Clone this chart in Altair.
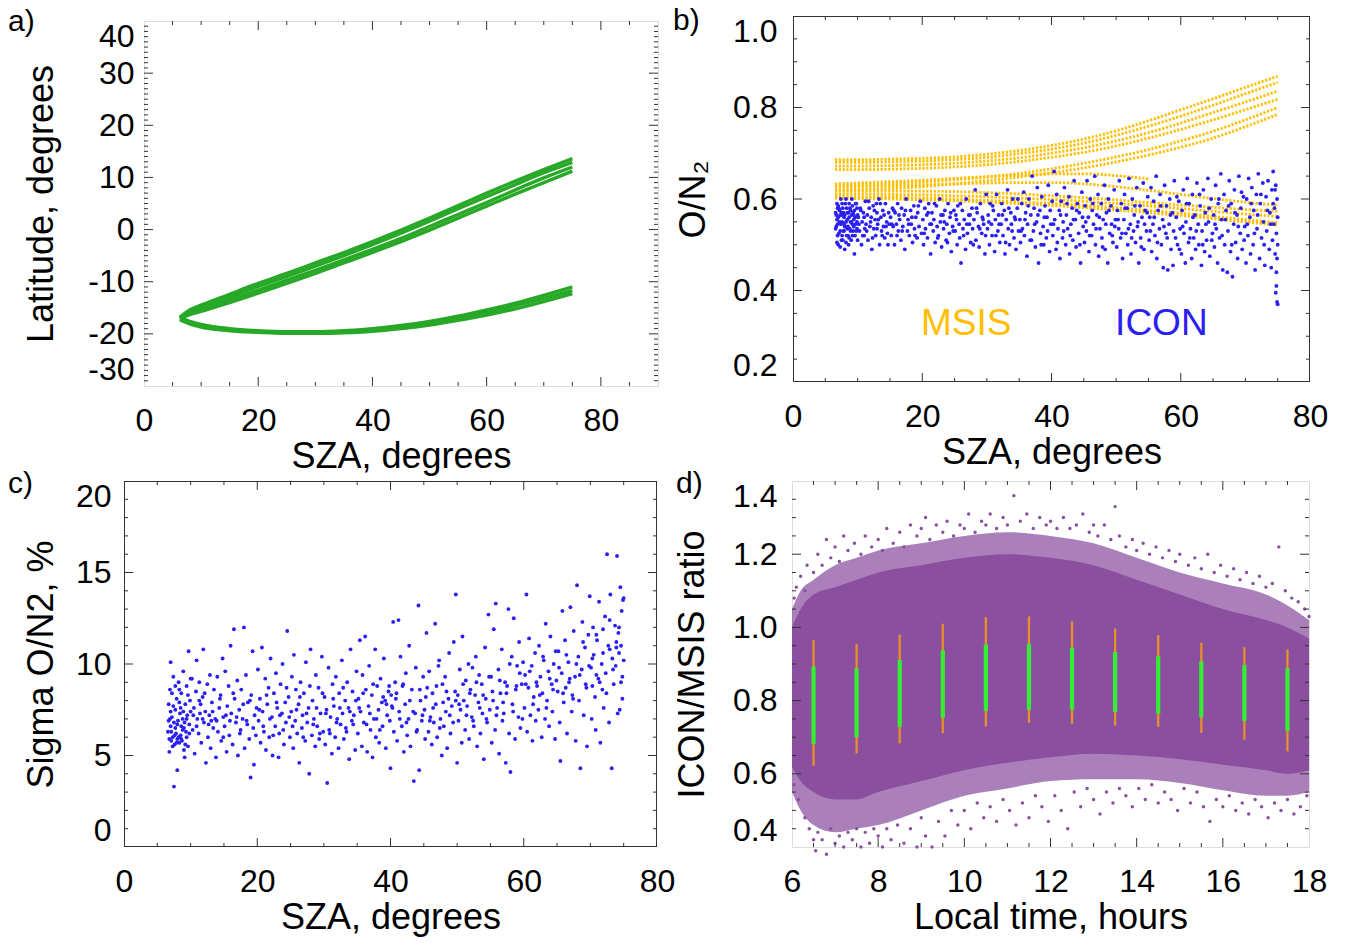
import altair as alt
import pandas as pd

FONT = "Liberation Sans"
LBL = 32
TTL = 36
TICK = "#333333"
BOX = "#333333"
GREEN = "#27a827"
GOLD = "#ffbf00"
BLUE = "#2a20f0"
PURPLE = "#8a4f9f"

# ---------------- Panel a: latitude vs SZA (orbit tracks) ----------------
a_sza = [6.3, 8, 10, 15, 20, 25, 30, 35, 40, 45, 50, 55, 60, 65, 70, 75]
a_up1 = [-16.8, -15.4, -14.5, -12.4, -10.3, -8.4, -6.4, -4.4, -2.3, -0.1, 2.2, 4.6, 7.0, 9.3, 11.5, 13.6]
a_up2 = [-16.9, -15.7, -14.9, -12.9, -10.9, -9.0, -7.0, -5.0, -2.9, -0.7, 1.6, 4.0, 6.3, 8.6, 10.9, 12.9]
a_up3 = [-17.0, -16.0, -15.3, -13.5, -11.6, -9.7, -7.8, -5.8, -3.8, -1.7, 0.6, 2.9, 5.2, 7.6, 9.9, 12.0]
a_up4 = [-17.1, -16.3, -15.7, -14.0, -12.2, -10.3, -8.4, -6.4, -4.4, -2.3, -0.1, 2.2, 4.5, 6.8, 9.0, 11.2]
a_lo1 = [-17.0, -17.6, -18.2, -19.0, -19.4, -19.6, -19.6, -19.4, -19.0, -18.4, -17.6, -16.6, -15.4, -14.1, -12.6, -11.0]
a_lo2 = [-17.2, -17.9, -18.5, -19.2, -19.6, -19.8, -19.8, -19.6, -19.3, -18.7, -17.9, -17.0, -15.9, -14.6, -13.2, -11.7]
a_lo3 = [-17.3, -18.1, -18.7, -19.4, -19.7, -19.9, -19.9, -19.8, -19.5, -19.0, -18.3, -17.4, -16.4, -15.2, -13.8, -12.3]

# ---------------- Panel b: MSIS tracks and ICON O/N2 ----------------
b_sza = [6.5, 10, 15, 20, 25, 30, 35, 40, 45, 50, 55, 60, 65, 70, 75]
msis_tracks = {
    "R1": [0.686, 0.686, 0.687, 0.689, 0.692, 0.698, 0.706, 0.717, 0.731, 0.749, 0.771, 0.795, 0.819, 0.844, 0.868],
    "R2": [0.680, 0.680, 0.681, 0.683, 0.686, 0.691, 0.699, 0.709, 0.722, 0.739, 0.759, 0.781, 0.805, 0.830, 0.855],
    "R3": [0.672, 0.672, 0.673, 0.675, 0.678, 0.683, 0.690, 0.700, 0.712, 0.727, 0.745, 0.766, 0.789, 0.812, 0.836],
    "R4": [0.664, 0.664, 0.665, 0.667, 0.670, 0.675, 0.682, 0.691, 0.702, 0.716, 0.733, 0.752, 0.773, 0.795, 0.818],
    "R5": [0.630, 0.631, 0.633, 0.637, 0.642, 0.648, 0.656, 0.666, 0.678, 0.692, 0.708, 0.727, 0.748, 0.773, 0.800],
    "R6": [0.620, 0.621, 0.623, 0.627, 0.633, 0.640, 0.648, 0.657, 0.668, 0.681, 0.696, 0.713, 0.733, 0.758, 0.785],
    "F2": [0.626, 0.627, 0.629, 0.631, 0.633, 0.635, 0.636, 0.636, 0.633, 0.627, 0.619, 0.610, 0.601, 0.593, 0.586],
    "F6": [0.617, 0.617, 0.617, 0.617, 0.616, 0.614, 0.611, 0.607, 0.603, 0.598, 0.592, 0.587, 0.582, 0.577, 0.573],
    "F3": [0.611, 0.611, 0.610, 0.609, 0.607, 0.605, 0.602, 0.599, 0.595, 0.590, 0.585, 0.579, 0.573, 0.567, 0.562],
    "F4": [0.606, 0.605, 0.604, 0.602, 0.600, 0.597, 0.594, 0.590, 0.586, 0.581, 0.575, 0.569, 0.562, 0.555, 0.548],
    "F5": [0.602, 0.601, 0.600, 0.598, 0.596, 0.593, 0.590, 0.586, 0.581, 0.576, 0.570, 0.564, 0.557, 0.550, 0.543],
}
f1_sza = [6.5, 10, 15, 20, 25, 30, 35, 40, 45, 50, 55]
f1_val = [0.633, 0.635, 0.638, 0.641, 0.645, 0.649, 0.652, 0.655, 0.655, 0.651, 0.644]

icon_sza = [6.6,6.7,6.8,6.9,7.0,7.0,7.1,7.2,7.3,7.4,7.5,7.5,7.6,7.7,7.8,7.9,8.0,8.0,8.1,8.2,8.3,8.4,8.5,8.6,8.7,8.8,8.9,9.0,9.1,9.2,9.3,9.4,9.5,9.6,9.7,9.8,9.9,10.0,6.8,7.3,7.9,8.4,8.9,9.4,9.9,7.6,8.7,9.2,6.9,8.2,
    10.1,10.3,10.4,10.6,10.7,10.9,11.0,11.2,11.3,11.5,11.6,11.8,11.9,12.1,12.2,12.4,12.5,12.7,12.8,13.0,13.1,13.3,13.4,13.6,13.7,13.9,14.0,14.2,14.3,14.5,14.6,14.8,14.9,11.1,12.9,
    15.1,15.2,15.4,15.5,15.7,15.8,16.0,16.2,16.3,16.5,16.7,16.8,17.0,17.2,17.3,17.5,17.7,17.8,18.0,18.2,18.3,18.5,18.7,18.8,19.0,19.2,19.3,19.5,19.7,19.9,
    20.1,20.2,20.4,20.5,20.7,20.8,21.0,21.2,21.3,21.5,21.7,21.8,22.0,22.2,22.3,22.5,22.7,22.8,23.0,23.2,23.3,23.5,23.7,23.8,24.0,24.2,24.3,24.5,24.7,24.9,
    25.1,25.2,25.4,25.5,25.7,25.8,26.0,26.2,26.3,26.5,26.7,26.8,27.0,27.2,27.3,27.5,27.7,27.8,28.0,28.2,28.3,28.5,28.7,28.8,29.0,29.2,29.3,29.5,29.7,29.9,
    30.1,30.2,30.4,30.5,30.7,30.8,31.0,31.2,31.3,31.5,31.7,31.8,32.0,32.2,32.3,32.5,32.7,32.8,33.0,33.2,33.3,33.5,33.7,33.8,34.0,34.2,34.3,34.5,34.7,34.9,
    35.1,35.2,35.4,35.5,35.7,35.8,36.0,36.2,36.3,36.5,36.7,36.8,37.0,37.2,37.3,37.5,37.7,37.8,38.0,38.2,38.3,38.5,38.7,38.8,39.0,39.2,39.3,39.5,39.7,39.9,
    40.1,40.2,40.4,40.5,40.7,40.8,41.0,41.2,41.3,41.5,41.7,41.8,42.0,42.2,42.3,42.5,42.7,42.8,43.0,43.2,43.3,43.5,43.7,43.8,44.0,44.2,44.3,44.5,44.7,44.9,
    45.1,45.2,45.4,45.5,45.7,45.8,46.0,46.2,46.3,46.5,46.7,46.8,47.0,47.2,47.3,47.5,47.7,47.8,48.0,48.2,48.3,48.5,48.7,48.8,49.0,49.2,49.3,49.5,49.7,49.9,
    50.1,50.2,50.4,50.5,50.7,50.8,51.0,51.2,51.3,51.5,51.7,51.8,52.0,52.2,52.3,52.5,52.7,52.8,53.0,53.2,53.3,53.5,53.7,53.8,54.0,54.2,54.3,54.5,54.7,54.9,
    55.1,55.2,55.4,55.5,55.7,55.8,56.0,56.2,56.3,56.5,56.7,56.8,57.0,57.2,57.3,57.5,57.7,57.8,58.0,58.2,58.3,58.5,58.7,58.8,59.0,59.2,59.3,59.5,59.7,59.9,
    60.1,60.2,60.4,60.5,60.7,60.8,61.0,61.2,61.3,61.5,61.7,61.8,62.0,62.2,62.3,62.5,62.7,62.8,63.0,63.2,63.3,63.5,63.7,63.8,64.0,64.2,64.3,64.5,64.7,64.9,
    65.1,65.2,65.4,65.5,65.7,65.8,66.0,66.2,66.3,66.5,66.7,66.8,67.0,67.2,67.3,67.5,67.7,67.8,68.0,68.2,68.3,68.5,68.7,68.8,69.0,69.2,69.3,69.5,69.7,69.9,
    70.1,70.2,70.4,70.5,70.7,70.8,71.0,71.2,71.3,71.5,71.7,71.8,72.0,72.2,72.3,72.5,72.7,72.8,73.0,73.2,73.3,73.5,73.7,73.8,74.0,74.1,74.2,74.3,74.4,74.5,74.6,74.7,74.8,74.9,75.0,74.7,74.9,75.0,74.8,75.0,
    6.6,6.7,6.8,6.9,7.0,7.1,7.2,7.3,7.4,7.5,7.6,7.7,7.8,7.9,8.0,8.1,8.2,8.3,8.4,8.5,8.6,8.7,8.8,8.9,9.0,9.1,9.2,9.3,9.4,9.5,9.6,9.7,9.8,9.9,10.0,
    10.2,10.5,10.8,11.0,11.4,11.7,12.0,12.3,12.6,13.0,13.2,13.5,13.8,14.1,14.4,14.7,
    15.3,15.6,16.1,16.4,16.9,17.4,17.9,18.4,18.9,19.4,20.3,20.9,21.4,21.9,22.4,22.9,23.4,23.9,24.4,24.8,
    25.3,25.9,26.4,26.9,27.4,27.9,28.4,28.9,29.4,29.8,30.3,30.9,31.4,31.9,32.4,32.9,33.4,33.9,34.4,34.8,
    35.3,35.9,36.4,36.9,37.4,37.9,38.4,38.9,39.4,39.8,40.3,40.9,41.4,41.9,42.4,42.9,43.4,43.9,44.4,44.8,
    45.3,45.9,46.4,46.9,47.4,47.9,48.4,48.9,49.4,49.8,50.3,50.9,51.4,51.9,52.4,52.9,53.4,53.9,54.4,54.8,
    55.3,55.9,56.4,56.9,57.4,57.9,58.4,58.9,59.4,59.8,60.3,60.9,61.4,61.9,62.4,62.9,63.4,63.9,64.4,64.8,
    65.3,65.9,66.4,66.9,67.4,67.9,68.4,68.9,69.4,69.8,70.3,70.9,71.4,71.9,72.4,72.9,73.4,73.9,74.3,74.8,74.6,74.9]
icon_on2 = [0.57,0.54,0.59,0.52,0.56,0.50,0.58,0.55,0.53,0.60,0.57,0.51,0.55,0.58,0.53,0.56,0.54,0.49,0.59,0.55,0.52,0.57,0.54,0.50,0.56,0.58,0.53,0.55,0.60,0.52,0.57,0.54,0.48,0.56,0.59,0.53,0.55,0.51,0.555,0.565,0.545,0.535,0.575,0.565,0.58,0.52,0.515,0.545,0.58,0.60,
    0.56,0.53,0.58,0.50,0.55,0.57,0.52,0.595,0.545,0.565,0.51,0.58,0.54,0.56,0.49,0.585,0.535,0.555,0.52,0.57,0.545,0.60,0.50,0.56,0.53,0.575,0.54,0.515,0.59,0.55,0.525,0.57,0.545,0.535,0.59,
    0.56,0.52,0.58,0.54,0.50,0.57,0.545,0.59,0.53,0.555,0.51,0.58,0.54,0.565,0.49,0.60,0.53,0.555,0.52,0.575,0.545,0.505,0.585,0.535,0.56,0.515,0.57,0.54,0.595,0.525,
    0.555,0.50,0.58,0.535,0.565,0.515,0.59,0.545,0.48,0.57,0.53,0.555,0.505,0.585,0.54,0.52,0.60,0.55,0.495,0.565,0.535,0.575,0.51,0.545,0.59,0.525,0.56,0.485,0.54,0.575,
    0.53,0.565,0.50,0.585,0.545,0.515,0.46,0.575,0.535,0.555,0.49,0.60,0.525,0.565,0.545,0.505,0.58,0.535,0.555,0.62,0.51,0.57,0.54,0.495,0.59,0.525,0.56,0.545,0.48,0.61,
    0.535,0.565,0.50,0.59,0.545,0.52,0.575,0.485,0.555,0.61,0.53,0.565,0.505,0.545,0.59,0.52,0.575,0.48,0.555,0.62,0.535,0.50,0.57,0.545,0.60,0.515,0.56,0.49,0.58,0.53,
    0.555,0.505,0.59,0.535,0.615,0.52,0.57,0.475,0.545,0.60,0.51,0.565,0.65,0.53,0.58,0.495,0.55,0.625,0.46,0.575,0.525,0.605,0.54,0.50,0.585,0.515,0.56,0.63,0.485,0.545,
    0.595,0.52,0.66,0.555,0.49,0.61,0.535,0.575,0.47,0.595,0.515,0.55,0.625,0.50,0.565,0.535,0.605,0.48,0.545,0.58,0.51,0.64,0.555,0.495,0.59,0.525,0.57,0.46,0.615,0.54,
    0.505,0.585,0.53,0.64,0.56,0.485,0.60,0.52,0.575,0.545,0.65,0.50,0.565,0.61,0.475,0.535,0.59,0.515,0.555,0.63,0.49,0.57,0.46,0.60,0.525,0.585,0.545,0.505,0.62,0.555,
    0.495,0.575,0.535,0.64,0.515,0.59,0.47,0.555,0.61,0.525,0.58,0.50,0.645,0.545,0.48,0.60,0.53,0.565,0.505,0.625,0.54,0.46,0.585,0.515,0.56,0.635,0.49,0.575,0.53,0.605,
    0.51,0.56,0.625,0.485,0.545,0.595,0.52,0.65,0.47,0.575,0.535,0.61,0.50,0.555,0.45,0.63,0.525,0.585,0.445,0.545,0.60,0.49,0.57,0.455,0.64,0.515,0.56,0.50,0.595,0.535,
    0.48,0.575,0.62,0.525,0.46,0.55,0.645,0.505,0.59,0.535,0.47,0.61,0.515,0.565,0.49,0.635,0.545,0.50,0.585,0.455,0.53,0.62,0.485,0.57,0.51,0.645,0.55,0.475,0.60,0.525,
    0.565,0.495,0.63,0.535,0.46,0.59,0.515,0.655,0.555,0.445,0.61,0.50,0.575,0.44,0.53,0.64,0.485,0.59,0.43,0.545,0.62,0.505,0.565,0.47,0.65,0.525,0.58,0.49,0.605,0.54,
    0.46,0.60,0.52,0.645,0.56,0.48,0.625,0.50,0.575,0.445,0.61,0.535,0.655,0.47,0.59,0.515,0.635,0.55,0.455,0.605,0.53,0.64,0.49,0.57,0.45,0.62,0.51,0.66,0.545,0.58,0.48,0.63,0.41,0.60,0.50,0.395,0.375,0.37,0.44,0.56,
    0.535,0.565,0.505,0.545,0.585,0.525,0.575,0.495,0.545,0.565,0.59,0.51,0.57,0.53,0.565,0.54,0.505,0.58,0.555,0.52,0.57,0.59,0.535,0.55,0.51,0.565,0.585,0.53,0.555,0.575,0.52,0.545,0.59,0.535,0.565,
    0.545,0.575,0.52,0.56,0.53,0.595,0.55,0.515,0.575,0.535,0.555,0.59,0.52,0.565,0.54,0.50,
    0.545,0.575,0.52,0.565,0.53,0.575,0.545,0.56,0.52,0.585,0.525,0.57,0.545,0.59,0.515,0.565,0.55,0.505,0.57,0.53,
    0.555,0.59,0.52,0.545,0.565,0.50,0.58,0.535,0.555,0.52,0.55,0.585,0.52,0.545,0.565,0.505,0.58,0.53,0.555,0.60,
    0.53,0.555,0.585,0.51,0.545,0.565,0.50,0.56,0.53,0.575,0.545,0.505,0.565,0.53,0.59,0.52,0.555,0.575,0.50,0.56,
    0.55,0.52,0.59,0.535,0.56,0.495,0.545,0.575,0.52,0.54,0.555,0.525,0.58,0.535,0.515,0.585,0.55,0.495,0.545,0.57,
    0.53,0.56,0.505,0.585,0.54,0.515,0.565,0.53,0.605,0.49,0.54,0.59,0.515,0.56,0.53,0.61,0.50,0.545,0.58,0.51,
    0.545,0.60,0.52,0.555,0.585,0.50,0.57,0.54,0.615,0.51,0.545,0.59,0.525,0.565,0.61,0.50,0.575,0.545,0.59,0.525,0.62,0.47]

# ---------------- Panel c: Sigma O/N2 vs SZA ----------------
c_sza = [6.6,6.7,6.8,6.9,7.0,7.0,7.1,7.2,7.3,7.4,7.5,7.5,7.6,7.7,7.8,7.9,8.0,8.0,8.1,8.2,8.3,8.4,8.5,8.6,8.7,8.8,8.9,9.0,9.1,9.2,9.3,9.4,9.5,9.6,9.7,9.8,9.9,10.0,6.9,7.7,8.3,9.0,7.2,8.6,9.4,
    10.2,10.3,10.5,10.6,10.8,10.9,11.0,11.2,11.3,11.5,11.6,11.8,11.9,12.0,12.2,12.3,12.5,12.6,12.8,12.9,13.0,13.2,13.4,13.5,13.7,13.8,14.0,14.1,14.3,14.5,14.6,14.8,14.9,11.4,13.1,
    15.1,15.2,15.4,15.5,15.7,15.8,16.0,16.1,16.3,16.5,16.6,16.8,17.0,17.1,17.3,17.5,17.6,17.8,18.0,18.1,18.3,18.5,18.6,18.8,19.0,19.1,19.3,19.5,19.6,19.8,
    20.1,20.2,20.4,20.5,20.7,20.8,21.0,21.2,21.3,21.5,21.7,21.8,22.0,22.2,22.3,22.5,22.7,22.8,23.0,23.2,23.3,23.5,23.7,23.8,24.0,24.2,24.3,24.5,24.7,24.9,
    25.1,25.2,25.4,25.5,25.7,25.8,26.0,26.2,26.3,26.5,26.7,26.8,27.0,27.2,27.3,27.5,27.7,27.8,28.0,28.2,28.3,28.5,28.7,28.8,29.0,29.2,29.3,29.5,29.7,29.9,
    30.1,30.2,30.4,30.5,30.7,30.8,31.0,31.2,31.3,31.5,31.7,31.8,32.0,32.2,32.3,32.5,32.7,32.8,33.0,33.2,33.3,33.5,33.7,33.8,34.0,34.2,34.3,34.5,34.7,34.9,
    35.1,35.2,35.4,35.5,35.7,35.8,36.0,36.2,36.3,36.5,36.7,36.8,37.0,37.2,37.3,37.5,37.7,37.8,38.0,38.2,38.3,38.5,38.7,38.8,39.0,39.2,39.3,39.5,39.7,39.9,
    40.0,40.1,40.2,40.4,40.5,40.7,40.8,41.0,41.2,41.3,41.5,41.7,41.8,42.0,42.2,42.3,42.5,42.7,42.8,43.0,43.2,43.5,43.7,43.8,44.0,44.2,44.3,44.5,44.7,44.9,
    45.1,45.2,45.4,45.5,45.7,45.8,46.0,46.2,46.3,46.5,46.7,46.8,47.0,47.2,47.3,47.5,47.7,47.8,48.0,48.2,48.3,48.5,48.7,48.8,49.0,49.2,49.5,49.7,49.8,50.0,
    50.1,50.2,50.4,50.5,50.7,50.8,51.0,51.2,51.3,51.5,51.7,51.8,52.0,52.2,52.3,52.5,52.7,52.8,53.0,53.2,53.3,53.5,53.7,53.8,54.0,54.2,54.3,54.5,54.7,54.9,
    55.1,55.2,55.4,55.5,55.7,55.8,56.0,56.2,56.3,56.5,56.7,56.8,57.0,57.2,57.3,57.5,57.7,57.8,58.0,58.2,58.3,58.5,58.7,58.8,59.0,59.2,59.3,59.5,59.7,59.9,
    60.1,60.2,60.4,60.5,60.7,60.8,61.0,61.2,61.3,61.5,61.7,61.8,62.0,62.2,62.3,62.5,62.7,62.8,63.0,63.2,63.3,63.5,63.7,63.8,64.0,64.2,64.3,64.5,64.7,64.9,
    65.1,65.2,65.4,65.5,65.7,65.8,66.0,66.2,66.3,66.5,66.7,66.8,67.0,67.2,67.3,67.5,67.7,67.8,68.0,68.2,68.3,68.5,68.7,68.8,69.0,69.2,69.3,69.5,69.7,69.9,
    70.1,70.2,70.4,70.5,70.7,70.8,71.0,71.2,71.3,71.5,71.7,71.8,72.0,72.2,72.3,72.5,72.7,72.8,73.0,73.2,73.3,73.5,73.7,73.8,74.0,74.1,74.2,74.3,74.5,74.6,74.7,74.8,74.9,75.0,74.4,73.9,72.9,71.9,70.9,70.3,
    6.7,6.8,7.0,7.1,7.3,7.4,7.6,7.7,7.9,8.0,8.2,8.3,8.5,8.6,8.8,8.9,9.1,9.2,9.4,9.6,9.8,10.0,
    10.4,10.9,11.3,11.8,12.1,12.7,13.3,13.9,14.4,14.9,15.3,15.9,16.4,16.9,17.4,17.9,18.4,18.9,19.4,19.9,
    20.3,20.9,21.4,21.9,22.4,22.9,23.4,23.9,24.4,24.8,25.3,25.9,26.4,26.9,27.4,27.9,28.4,28.9,29.4,29.8,
    30.3,30.9,31.4,31.9,32.4,32.9,33.4,33.9,34.4,34.8,35.3,35.9,36.4,36.9,37.4,37.9,38.4,38.9,39.4,39.8,
    40.3,40.9,41.4,41.9,42.4,42.9,43.4,43.9,44.4,44.8,45.3,45.9,46.4,46.9,47.4,47.9,48.4,48.9,49.4,49.8,
    50.3,50.9,51.4,51.9,52.4,52.9,53.4,53.9,54.4,54.8,55.3,55.9,56.4,56.9,57.4,57.9,58.4,58.9,59.4,59.8,
    60.3,60.9,61.4,61.9,62.4,62.9,63.4,63.9,64.4,64.8,65.3,65.9,66.4,66.9,67.4,67.9,68.4,68.9,69.4,69.8,
    70.3,70.9,71.4,71.9,72.4,72.9,73.4,73.9,74.3,74.8,74.6,75.0]
c_sig = [6.3,7.8,5.2,8.6,6.6,10.1,5.8,7.1,6.0,9.3,3.3,6.8,5.6,7.5,6.2,8.1,5.9,4.2,6.9,9.0,5.7,7.3,6.1,8.4,5.8,7.0,9.6,6.5,4.9,7.8,6.3,8.8,7.2,5.5,10.7,6.7,8.0,7.4,7.0,6.5,7.9,5.3,8.4,6.6,6.0,
    9.2,6.4,7.6,5.1,8.5,10.2,7.0,6.2,9.0,7.8,5.7,8.2,10.8,6.8,7.4,4.6,8.9,6.0,7.2,9.4,5.4,7.9,6.5,8.6,7.0,4.9,9.3,6.3,7.6,8.3,5.8,10.3,7.1,7.3,6.9,
    6.6,9.6,5.2,7.7,8.8,6.1,11.0,7.3,5.6,11.9,8.1,6.8,9.1,5.0,7.5,6.4,8.6,7.0,12.0,5.4,9.4,6.7,7.9,5.9,3.8,8.3,10.7,4.5,7.2,6.1,
    9.7,6.9,8.1,5.7,10.9,7.4,6.3,9.2,5.3,7.8,8.7,6.0,10.3,7.1,5.0,8.4,6.6,9.5,7.6,4.9,6.2,8.9,7.3,10.0,5.6,7.9,6.8,11.8,8.2,6.0,
    7.4,9.3,5.4,10.5,6.9,8.6,6.2,7.8,4.6,9.0,6.5,7.2,8.4,5.8,10.1,6.8,7.6,4.0,10.8,6.1,8.0,7.0,5.5,9.4,6.6,8.7,5.9,7.3,10.4,6.3,
    8.2,5.6,7.5,3.5,9.8,6.4,7.1,5.1,8.9,7.7,6.0,9.3,7.0,5.4,8.4,6.7,10.2,7.3,5.9,8.0,6.5,9.0,7.6,4.8,10.8,6.9,8.5,7.2,5.3,9.6,
    6.2,8.1,11.3,7.4,5.5,9.4,6.8,11.5,8.6,5.2,7.7,9.9,6.4,8.3,4.9,7.0,10.8,6.0,8.8,7.5,5.7,9.2,7.9,6.6,10.3,8.0,5.4,7.2,8.5,6.9,
    4.3,8.3,7.7,12.3,6.3,9.0,8.1,5.8,12.4,7.4,10.4,6.6,8.8,5.2,7.8,9.5,6.1,7.0,11.0,5.5,8.6,3.6,7.3,9.8,6.4,13.2,4.2,8.0,6.9,9.3,
    7.5,5.9,11.7,8.7,6.3,9.6,7.1,5.6,8.4,6.8,12.2,7.8,6.0,9.9,10.2,7.0,5.0,8.9,6.6,9.3,7.4,5.4,8.1,10.6,6.2,7.7,11.2,8.5,13.8,4.6,
    8.3,6.9,9.7,7.5,5.7,11.5,8.0,6.4,9.1,7.7,10.0,5.9,8.6,7.1,9.8,6.6,8.3,10.4,5.5,7.9,9.4,6.2,8.9,7.3,4.8,10.9,8.1,6.8,12.7,7.5,
    9.3,5.7,8.0,11.9,6.4,13.3,7.6,9.7,5.1,8.4,10.8,6.9,7.3,9.0,4.6,8.8,13.0,6.2,4.1,10.4,7.8,12.5,5.9,8.6,9.9,7.1,11.2,6.5,8.9,10.1,
    7.6,9.4,13.8,6.3,8.7,11.4,7.2,9.9,5.8,8.2,10.6,6.9,8.8,7.5,11.0,9.3,6.0,8.4,10.2,7.0,12.2,8.0,9.6,6.6,11.5,8.9,7.4,10.0,5.9,9.1,
    8.5,10.7,6.8,4.7,9.5,12.9,7.9,11.3,8.7,6.2,10.1,9.0,13.1,7.4,8.3,11.8,9.3,5.8,14.3,10.4,8.0,4.3,9.7,12.3,7.2,10.9,8.9,5.5,11.6,13.7,
    9.8,7.0,12.0,10.5,8.2,6.4,11.3,9.2,13.4,5.7,10.0,8.6,7.6,12.6,9.5,16.0,11.0,6.8,13.8,4.3,10.3,8.9,12.1,9.9,15.9,7.3,11.7,10.6,14.2,9.0,12.9,8.1,13.5,10.2,7.5,11.2,10.8,11.9,9.4,8.8,
    6.9,5.9,7.4,6.3,5.5,7.7,6.1,8.8,5.7,6.7,6.0,8.6,7.6,5.9,6.4,7.4,6.8,5.6,7.0,8.3,6.2,9.2,
    7.2,6.6,8.0,7.0,8.4,6.7,7.4,6.9,8.1,6.0,7.2,6.9,8.4,7.1,6.2,7.8,6.9,8.0,6.5,7.6,
    7.5,6.6,8.3,7.0,6.1,7.9,7.2,6.4,8.7,7.1,6.6,7.5,8.2,6.0,7.3,8.8,6.7,7.6,6.2,8.4,
    7.3,6.2,8.1,6.8,7.6,8.7,6.3,7.4,6.7,8.0,7.6,8.4,6.7,7.3,8.9,7.0,6.4,8.2,7.8,8.8,
    7.6,8.4,7.0,8.9,6.8,8.0,7.4,6.3,8.6,7.2,8.2,6.9,7.6,8.8,6.5,7.9,8.5,7.2,6.8,8.0,
    7.8,8.9,7.2,8.4,6.9,9.0,7.6,8.3,7.0,9.3,8.5,7.2,9.1,7.9,8.4,10.0,7.4,8.8,9.5,7.0,
    8.9,9.6,7.8,9.0,8.3,10.4,7.6,9.2,8.6,10.7,9.8,8.4,10.5,9.2,8.1,10.0,9.4,11.2,8.7,9.9,
    10.3,11.6,9.0,10.6,8.4,12.4,9.7,10.9,12.0,9.3,11.0,13.6]

# ---------------- Panel d: ICON/MSIS ratio vs local time ----------------
d_core_lt = [6.0, 6.2, 6.5, 7.0, 7.5, 8.0, 9.0, 10.0, 11.0, 12.0, 13.0, 14.0, 15.0, 16.0, 17.0, 17.5, 18.0]
d_core_hi = [1.00, 1.05, 1.09, 1.11, 1.13, 1.15, 1.17, 1.19, 1.20, 1.19, 1.17, 1.13, 1.09, 1.05, 1.02, 1.00, 0.97]
d_core_lo = [0.62, 0.58, 0.55, 0.53, 0.53, 0.55, 0.58, 0.61, 0.63, 0.645, 0.655, 0.65, 0.64, 0.625, 0.61, 0.60, 0.61]
d_halo_hi = [1.05, 1.10, 1.13, 1.17, 1.19, 1.21, 1.23, 1.25, 1.26, 1.25, 1.23, 1.19, 1.15, 1.12, 1.09, 1.06, 1.02]
d_halo_lo = [0.55, 0.50, 0.46, 0.44, 0.45, 0.46, 0.50, 0.54, 0.56, 0.58, 0.585, 0.585, 0.575, 0.555, 0.54, 0.54, 0.55]
d_pts_lt = [6.05,6.1,6.2,6.3,6.35,6.5,6.6,6.7,6.8,6.9,7.0,7.1,7.2,7.3,7.45,7.6,7.7,7.85,8.0,8.1,8.2,8.35,8.5,8.6,8.75,8.9,9.0,9.1,9.2,9.35,9.5,9.6,9.75,9.9,10.0,10.1,10.25,10.4,10.5,10.6,10.75,10.9,11.0,11.15,11.3,11.45,11.6,11.75,11.9,12.0,12.15,12.3,12.45,12.6,12.75,12.9,13.0,13.1,13.25,13.4,13.5,13.6,13.75,13.9,14.0,14.15,14.3,14.45,14.6,14.75,14.9,15.0,15.2,15.35,15.5,15.65,15.8,15.95,16.1,16.25,16.4,16.55,16.7,16.85,17.0,17.15,17.3,17.45,17.6,17.75,17.9,18.0,
    6.05,6.15,6.3,6.4,6.5,6.55,6.6,6.7,6.8,6.9,7.0,7.1,7.2,7.3,7.4,7.5,7.6,7.7,7.8,7.9,8.0,8.1,8.2,8.3,8.45,8.6,8.75,8.9,9.0,9.1,9.25,9.4,9.55,9.7,9.85,10.0,10.15,10.3,10.45,10.6,10.75,10.9,11.05,11.2,11.35,11.5,11.65,11.8,11.95,12.1,12.25,12.4,12.55,12.7,12.85,13.0,13.15,13.3,13.45,13.6,13.75,13.9,14.05,14.2,14.35,14.5,14.65,14.8,14.95,15.1,15.25,15.4,15.55,15.7,15.85,16.0,16.15,16.3,16.45,16.6,16.75,16.9,17.05,17.2,17.35,17.5,17.65,17.8,17.95]
d_pts_val = [1.08,1.11,1.14,1.10,1.17,1.15,1.20,1.17,1.24,1.19,1.22,1.18,1.25,1.21,1.23,1.20,1.25,1.22,1.24,1.21,1.27,1.23,1.26,1.22,1.28,1.25,1.27,1.30,1.24,1.28,1.26,1.29,1.25,1.28,1.27,1.31,1.26,1.29,1.28,1.31,1.27,1.30,1.28,1.36,1.29,1.31,1.27,1.30,1.28,1.29,1.27,1.30,1.27,1.28,1.31,1.26,1.28,1.25,1.28,1.24,1.33,1.25,1.22,1.24,1.21,1.23,1.20,1.22,1.19,1.21,1.18,1.20,1.17,1.19,1.16,1.20,1.15,1.17,1.14,1.16,1.13,1.15,1.12,1.14,1.11,1.12,1.22,1.10,1.08,1.07,1.05,1.03,
    0.57,0.53,0.48,0.45,0.42,0.39,0.44,0.42,0.38,0.45,0.41,0.43,0.40,0.44,0.42,0.45,0.40,0.44,0.41,0.45,0.43,0.40,0.45,0.42,0.46,0.41,0.45,0.40,0.48,0.43,0.40,0.47,0.43,0.50,0.46,0.50,0.45,0.52,0.48,0.51,0.47,0.53,0.50,0.46,0.52,0.48,0.54,0.51,0.47,0.54,0.50,0.45,0.55,0.51,0.56,0.53,0.49,0.55,0.52,0.56,0.54,0.51,0.56,0.53,0.57,0.52,0.55,0.53,0.50,0.56,0.52,0.55,0.51,0.47,0.53,0.51,0.54,0.50,0.52,0.49,0.53,0.51,0.48,0.52,0.50,0.53,0.49,0.51,0.54]
bar_lt = [6.5, 7.5, 8.5, 9.5, 10.5, 11.5, 12.5, 13.5, 14.5, 15.5, 16.5, 17.5]
bar_o_hi = [0.966, 0.955, 0.980, 1.010, 1.028, 1.030, 1.017, 0.997, 0.979, 0.958, 0.946, 0.940]
bar_o_lo = [0.622, 0.656, 0.683, 0.711, 0.729, 0.739, 0.737, 0.732, 0.728, 0.712, 0.693, 0.661]
bar_g_hi = [0.893, 0.888, 0.911, 0.937, 0.953, 0.955, 0.945, 0.933, 0.921, 0.907, 0.897, 0.888]
bar_g_lo = [0.682, 0.700, 0.728, 0.753, 0.772, 0.775, 0.775, 0.769, 0.764, 0.755, 0.744, 0.717]


def rng(start, stop, step, skip=()):
    out, v = [], start
    while v <= stop + 1e-9:
        r = round(v, 4)
        if all(abs(r - s) > 1e-9 for s in skip):
            out.append(r)
        v += step
    return out


ONE = pd.DataFrame({"k": [0]})


def frame(W, H, X, Y, xmaj, xmin, ymaj, ymin, ml=9, sl=4, x0=0, y0=0, box=False):
    """Inward ticks on all four sides of the box [x0, W] x [y0, H]; X / Y are (scale, axis) pairs."""
    xs, xa_ = X
    ys, ya_ = Y
    layers = []
    for vals, ln in ((xmaj, ml), (xmin, sl)):
        base = alt.Chart(pd.DataFrame({"v": vals})).mark_rule(color=TICK, strokeWidth=1)
        layers.append(base.encode(x=alt.X("v:Q", scale=xs, axis=xa_), y=alt.value(H), y2=alt.value(H - ln)))
        layers.append(base.encode(x=alt.X("v:Q", scale=xs, axis=xa_), y=alt.value(y0), y2=alt.value(y0 + ln)))
    for vals, ln in ((ymaj, ml), (ymin, sl)):
        base = alt.Chart(pd.DataFrame({"v": vals})).mark_rule(color=TICK, strokeWidth=1)
        layers.append(base.encode(y=alt.Y("v:Q", scale=ys, axis=ya_), x=alt.value(x0), x2=alt.value(x0 + ln)))
        layers.append(base.encode(y=alt.Y("v:Q", scale=ys, axis=ya_), x=alt.value(W), x2=alt.value(W - ln)))
    if box:
        b = alt.Chart(ONE).mark_rule(color=BOX, strokeWidth=1)
        layers += [
            b.encode(x=alt.value(x0), x2=alt.value(W), y=alt.value(y0 + 0.5)),
            b.encode(x=alt.value(x0), x2=alt.value(W), y=alt.value(H - 0.5)),
            b.encode(x=alt.value(x0 + 0.5), y=alt.value(y0), y2=alt.value(H)),
            b.encode(x=alt.value(W - 0.5), y=alt.value(y0), y2=alt.value(H)),
        ]
    return layers


def xaxis(vals, title, W, fmt=None, x0=0):
    kw = dict(values=vals, ticks=False, tickSize=0, domain=False, grid=False, labelFontSize=LBL,
              labelFont=FONT, labelColor="black", labelPadding=19, labelFlush=False,
              title=title, titleFont=FONT, titleFontSize=TTL, titleFontWeight="normal", titleColor="black",
              titleX=(W + x0) / 2, titleY=70, titleBaseline="middle", labelOverlap=False)
    if fmt:
        kw["format"] = fmt
    return alt.Axis(**kw)


def yaxis(vals, title, H, pad, tx, fmt=None, expr=None, offset=0, y0=0):
    kw = dict(values=vals, ticks=False, tickSize=0, domain=False, grid=False, labelFontSize=LBL,
              labelFont=FONT, labelColor="black", labelPadding=pad, labelFlush=True, labelFlushOffset=0,
              title=title, titleFont=FONT, titleFontSize=TTL, titleFontWeight="normal", titleColor="black",
              titleX=tx, titleY=(H + y0) / 2, titleBaseline="middle", titleAngle=-90, labelOverlap=False)
    if offset:
        kw["offset"] = offset
    if fmt:
        kw["format"] = fmt
    if expr:
        kw["labelExpr"] = expr
    return alt.Axis(**kw)


def panel_label(text, dx, dy):
    return alt.Chart(pd.DataFrame({"t": [text]})).mark_text(
        align="left", baseline="middle", font=FONT, fontSize=30, color="black"
    ).encode(text="t:N", x=alt.value(dx), y=alt.value(dy))


# ---------- Panel a ----------
WA, HA = 514, 365
XA = (alt.Scale(domain=[0, 90], nice=False, zero=False), xaxis([0, 20, 40, 60, 80], "SZA, degrees", WA))
YA = (alt.Scale(domain=[-30, 40], nice=False, zero=False),
      yaxis(list(range(-30, 41, 10)), "Latitude, degrees", HA, 10, -103, expr="'' + datum.value"))
rows = []
tracks_a = [("U1", a_up1), ("U2", a_up2), ("U3", a_up3), ("U4", a_up4), ("L1", a_lo1), ("L2", a_lo2), ("L3", a_lo3)]
for name, vals in tracks_a:
    for i, (s, l) in enumerate(zip(a_sza, vals)):
        rows.append({"track": name, "sza": s, "lat": l, "o": i})
df_a = pd.DataFrame(rows)
lines_a = alt.Chart(df_a).mark_line(color=GREEN, strokeWidth=3.4, interpolate="monotone").encode(
    x=alt.X("sza:Q", scale=XA[0], axis=XA[1]), y=alt.Y("lat:Q", scale=YA[0], axis=YA[1]),
    detail="track:N", order="o:Q")
panel_a = alt.layer(
    lines_a, *frame(WA, HA, XA, YA, [20, 40, 60, 80], rng(5, 85, 5, skip=[20, 40, 60, 80]),
                    rng(-20, 30, 10), rng(-29, 39, 1, skip=rng(-20, 30, 10))),
    panel_label("a)", -136, 1)
).properties(width=WA, height=HA)

# ---------- Panel b (its frame sits 5 px higher than panel a's) ----------
B0 = -5
WB, HB = 517, 361
XB = (alt.Scale(domain=[0, 80], nice=False, zero=False), xaxis([0, 20, 40, 60, 80], "SZA, degrees", WB))
YB = (alt.Scale(domain=[0.2, 1.0], nice=False, zero=False, range=[HB, B0]),
      yaxis([0.2, 0.4, 0.6, 0.8, 1.0], "O/N₂", HB, 16, -100, fmt=".1f", y0=B0))
rows = []
for name, vals in msis_tracks.items():
    for i, (s, v) in enumerate(zip(b_sza, vals)):
        rows.append({"track": name, "sza": s, "on2": v, "o": i})
for i, (s, v) in enumerate(zip(f1_sza, f1_val)):
    rows.append({"track": "F1", "sza": s, "on2": v, "o": i})
df_msis = pd.DataFrame(rows)
msis = alt.Chart(df_msis).mark_line(color=GOLD, strokeWidth=2.8, strokeDash=[2.2, 1.6], interpolate="monotone").encode(
    x=alt.X("sza:Q", scale=XB[0], axis=XB[1]), y=alt.Y("on2:Q", scale=YB[0], axis=YB[1]),
    detail="track:N", order="o:Q")
icon_b = alt.Chart(pd.DataFrame({"sza": icon_sza, "on2": icon_on2})).mark_circle(size=15, opacity=1, color=BLUE).encode(
    x=alt.X("sza:Q", scale=XB[0], axis=XB[1]), y=alt.Y("on2:Q", scale=YB[0], axis=YB[1]))
lbl_b = alt.Chart(pd.DataFrame({"t": ["MSIS", "ICON"], "sza": [26.8, 57.0], "on2": [0.327, 0.327],
                                "c": [GOLD, BLUE]})).mark_text(font=FONT, fontSize=37, baseline="middle").encode(
    x=alt.X("sza:Q", scale=XB[0], axis=XB[1]), y=alt.Y("on2:Q", scale=YB[0], axis=YB[1]), text="t:N",
    color=alt.Color("c:N", scale=None))
panel_b = alt.layer(
    msis, icon_b, lbl_b,
    *frame(WB, HB, XB, YB, [20, 40, 60], rng(5, 75, 5, skip=[20, 40, 60]),
           [0.4, 0.6, 0.8], rng(0.25, 0.95, 0.05, skip=[0.4, 0.6, 0.8]), y0=B0, box=True),
    panel_label("b)", -120, 0)
).properties(width=WB, height=HB, view=alt.ViewBackground(stroke="transparent"))

# ---------- Panel c (its frame starts 20 px left of the column origin) ----------
C0 = -20
WC, HC = 513, 366
XC = (alt.Scale(domain=[0, 80], nice=False, zero=False, range=[C0, WC]),
      xaxis([0, 20, 40, 60, 80], "SZA, degrees", WC, x0=C0))
YC = (alt.Scale(domain=[0, 20], nice=False, zero=False),
      yaxis([0, 5, 10, 15, 20], "Sigma O/N2, %", HC, 13, -83, offset=-C0))
pts_c = alt.Chart(pd.DataFrame({"sza": c_sza, "sig": c_sig})).mark_circle(size=15, opacity=1, color=BLUE).encode(
    x=alt.X("sza:Q", scale=XC[0], axis=XC[1]), y=alt.Y("sig:Q", scale=YC[0], axis=YC[1]))
panel_c = alt.layer(
    pts_c, *frame(WC, HC, XC, YC, [20, 40, 60], rng(5, 75, 5, skip=[20, 40, 60]),
                  [5, 10, 15], rng(1, 19, 1, skip=[5, 10, 15]), x0=C0, box=True),
    panel_label("c)", C0 - 116, 3)
).properties(width=WC, height=HC, view=alt.ViewBackground(stroke="transparent"))

# ---------- Panel d ----------
WD, HD = 517, 366
XD = (alt.Scale(domain=[6, 18], nice=False, zero=False),
      xaxis([6, 8, 10, 12, 14, 16, 18], "Local time, hours", WD))
YD = (alt.Scale(domain=[0.4, 1.4], nice=False, zero=False),
      yaxis([0.4, 0.6, 0.8, 1.0, 1.2, 1.4], "ICON/MSIS ratio", HD, 15, -100, fmt=".1f"))
df_core = pd.DataFrame({"lt": d_core_lt, "hi": d_core_hi, "lo": d_core_lo, "hhi": d_halo_hi, "hlo": d_halo_lo})
halo = alt.Chart(df_core).mark_area(color=PURPLE, opacity=0.72, interpolate="monotone").encode(
    x=alt.X("lt:Q", scale=XD[0], axis=XD[1]), y=alt.Y("hhi:Q", scale=YD[0], axis=YD[1]), y2="hlo:Q")
core = alt.Chart(df_core).mark_area(color=PURPLE, opacity=1, interpolate="monotone").encode(
    x=alt.X("lt:Q", scale=XD[0], axis=XD[1]), y=alt.Y("hi:Q", scale=YD[0], axis=YD[1]), y2="lo:Q")
pts_d = alt.Chart(pd.DataFrame({"lt": d_pts_lt, "r": d_pts_val})).mark_circle(size=12, opacity=1, color=PURPLE).encode(
    x=alt.X("lt:Q", scale=XD[0], axis=XD[1]), y=alt.Y("r:Q", scale=YD[0], axis=YD[1]))
df_bars = pd.DataFrame({"lt": bar_lt, "ohi": bar_o_hi, "olo": bar_o_lo, "ghi": bar_g_hi, "glo": bar_g_lo})
bar_o = alt.Chart(df_bars).mark_rule(color="#e8902a", strokeWidth=2.3).encode(
    x=alt.X("lt:Q", scale=XD[0], axis=XD[1]), y=alt.Y("ohi:Q", scale=YD[0], axis=YD[1]), y2="olo:Q")
bar_g = alt.Chart(df_bars).mark_rule(color="#33ee33", strokeWidth=4.2).encode(
    x=alt.X("lt:Q", scale=XD[0], axis=XD[1]), y=alt.Y("ghi:Q", scale=YD[0], axis=YD[1]), y2="glo:Q")
panel_d = alt.layer(
    halo, core, pts_d, bar_o, bar_g,
    *frame(WD, HD, XD, YD, rng(8, 16, 2), rng(6.5, 17.5, 0.5, skip=rng(8, 16, 2)),
           [0.6, 0.8, 1.0, 1.2], rng(0.45, 1.35, 0.05, skip=[0.6, 0.8, 1.0, 1.2])),
    panel_label("d)", -116, 3)
).properties(width=WD, height=HD)

row1 = alt.hconcat(panel_a, panel_b, spacing=13)
row2 = alt.hconcat(panel_c, panel_d, spacing=-5)
chart = alt.vconcat(row1, row2, spacing=-7).properties(
    padding={"left": 7, "top": 5, "right": 5, "bottom": 5}
).configure_view(stroke=BOX, strokeWidth=1).configure(background="white")

chart.save("out.html", embed_options={"renderer": "svg", "actions": False})
